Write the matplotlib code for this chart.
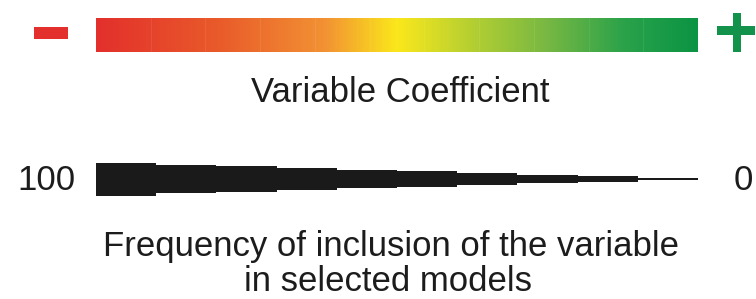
import numpy as np
import matplotlib
matplotlib.use("Agg")
import matplotlib.pyplot as plt
from matplotlib.colors import LinearSegmentedColormap
from matplotlib.patches import Rectangle

plt.rcParams['font.family'] = ['Liberation Sans', 'DejaVu Sans']

# coefficient colour scale (negative -> positive)
coef_stops = [0.0, 0.2, 0.38, 0.5, 0.62, 0.75, 0.88, 1.0]
coef_colors = ['#e3302c', '#e95a2a', '#f29233', '#fbe81b',
               '#b7d031', '#78b843', '#2aa24a', '#0b9444']
n_coef_blocks = 11

# frequency of inclusion, relative line thickness of each block (100 -> 0)
inclusion_width = [100, 85, 76, 67, 55, 47, 36, 24, 16, 6]
freq_labels = ['100', '0']

fig = plt.figure(figsize=(7.56, 2.99), dpi=100)
ax = fig.add_axes([0, 0, 1, 1])
ax.set_xlim(0, 756)
ax.set_ylim(299, 0)
ax.axis('off')

# colour bar
x0, x1 = 96, 698
cmap = LinearSegmentedColormap.from_list('coef', list(zip(coef_stops, coef_colors)))
grad = np.linspace(0, 1, 600).reshape(1, -1)
ax.imshow(grad, cmap=cmap, extent=[x0, x1, 52, 18], aspect='auto', interpolation='bilinear')
for xb in np.linspace(x0, x1, n_coef_blocks + 1)[1:-1]:
    ax.plot([xb, xb], [18, 52], color='white', lw=0.8, alpha=0.08)

# minus / plus signs
ax.add_patch(Rectangle((34, 27), 34, 12, color=coef_colors[0], lw=0))
ax.add_patch(Rectangle((717, 26), 38, 9, color='#12924a', lw=0))
ax.add_patch(Rectangle((733, 13), 8, 39, color='#12924a', lw=0))

txt = dict(fontsize=25, va='baseline', color='#1c1c1c')
ax.text(400, 102, 'Variable Coefficient', ha='center', **txt)

# tapered frequency bar
yc = 179
max_h = 33
n = len(inclusion_width)
edges = np.linspace(x0, x1, n + 1)
heights = np.array(inclusion_width) / 100 * max_h
ax.bar(edges[:-1], heights, width=np.diff(edges), bottom=yc - heights / 2,
       align='edge', color='#1a1a1a', lw=0)

ax.text(75, 190, freq_labels[0], ha='right', **txt)
ax.text(734, 190, freq_labels[1], ha='left', **txt)

ax.text(391, 256, 'Frequency of inclusion of the variable', ha='center', **txt)
ax.text(388, 291, 'in selected models', ha='center', **txt)

fig.savefig('out.png', dpi=100)
